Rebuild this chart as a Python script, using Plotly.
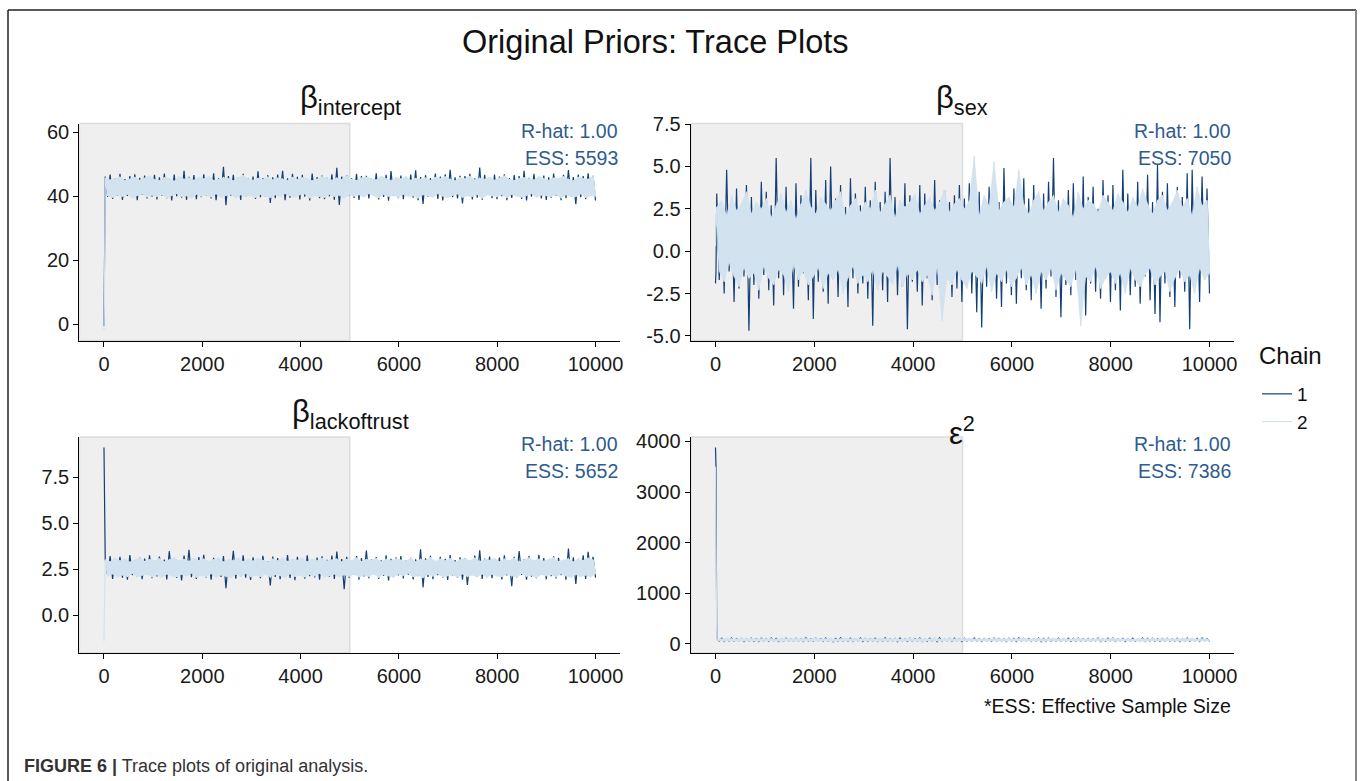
import numpy as np
import plotly.graph_objects as go
from plotly.subplots import make_subplots

# ---------------- data ----------------
# Each trace is summarised by the upper / lower extremes of 100 consecutive
# blocks of 100 iterations, plus the starting (warm-up) values.
PANELS = ["intercept", "sex", "lackoftrust", "epsilon2"]
RHAT = ["1.00", "1.00", "1.00", "1.00"]
ESS = ["5593", "7050", "5652", "7386"]

START_ITER = [0, 10]
INTERCEPT_C1_START = [-0.5, 18.0]
INTERCEPT_C2_START = [-1.8, 8.0]
INTERCEPT_C1_HI = [46.2, 46.8, 45.6, 47.0, 45.4, 46.3, 46.9, 45.8, 46.5, 45.3,
                   46.7, 45.9, 47.1, 45.5, 46.8, 45.4, 48.0, 46.1, 46.6, 45.7,
                   46.9, 46.0, 47.2, 45.6, 49.2, 46.3, 46.7, 45.8, 47.0, 45.5,
                   46.2, 47.8, 45.7, 46.6, 45.9, 46.8, 48.0, 45.6, 47.0, 46.1,
                   46.7, 45.5, 47.1, 46.0, 46.5, 45.8, 46.9, 48.9, 46.2, 46.6,
                   45.7, 47.0, 46.3, 46.4, 45.6, 47.2, 45.9, 46.7, 47.9, 45.8,
                   46.5, 46.1, 46.8, 48.1, 46.0, 46.6, 45.7, 47.1, 46.2, 46.9,
                   48.3, 45.9, 46.4, 46.3, 47.0, 45.6, 49.0, 46.7, 46.0, 46.8,
                   46.2, 46.9, 45.7, 46.6, 46.3, 48.0, 45.8, 47.0, 46.1, 46.5,
                   45.9, 47.1, 45.6, 46.7, 48.2, 46.0, 46.8, 46.3, 47.2, 46.4]
INTERCEPT_C1_LO = [39.8, 39.2, 40.3, 38.9, 40.1, 39.5, 38.8, 40.4, 39.3, 39.9,
                   39.0, 40.2, 39.4, 38.7, 40.0, 39.6, 38.9, 40.3, 39.1, 39.7,
                   40.1, 39.3, 38.8, 39.9, 37.2, 40.2, 39.5, 38.9, 39.8, 40.4,
                   39.2, 39.7, 40.0, 37.9, 39.4, 40.3, 38.8, 39.6, 40.1, 39.0,
                   39.9, 38.7, 40.2, 39.4, 39.1, 40.0, 38.9, 37.3, 39.7, 40.3,
                   39.5, 38.9, 40.1, 39.3, 40.4, 39.0, 39.8, 38.6, 40.2, 39.4,
                   39.1, 40.3, 39.6, 38.8, 37.6, 39.9, 40.1, 39.2, 38.7, 40.0,
                   39.7, 39.3, 37.8, 40.2, 39.0, 39.6, 38.9, 40.4, 39.4, 39.1,
                   40.0, 38.8, 39.5, 40.3, 39.2, 38.7, 39.9, 40.1, 39.3, 38.9,
                   39.6, 40.2, 38.8, 39.4, 40.0, 37.5, 39.7, 39.1, 40.3, 38.7]
INTERCEPT_C2_HI = [45.8, 45.2, 45.5, 46.1, 44.9, 45.4, 46.0, 45.1, 45.7, 46.4,
                   45.3, 45.0, 45.9, 45.6, 44.8, 46.2, 45.4, 45.8, 45.1, 46.0,
                   45.5, 46.3, 45.0, 45.3, 45.9, 45.6, 44.9, 45.8, 46.6, 45.4,
                   45.1, 45.7, 45.3, 46.1, 45.2, 45.8, 45.5, 45.0, 46.0, 45.3,
                   45.9, 45.6, 44.9, 45.4, 46.2, 45.7, 45.1, 45.8, 45.3, 46.5,
                   45.4, 45.0, 45.8, 46.0, 45.5, 45.2, 46.3, 45.6, 44.9, 45.9,
                   45.5, 46.1, 45.1, 45.7, 45.4, 45.8, 45.0, 46.0, 45.6, 46.2,
                   45.3, 44.9, 45.9, 45.5, 46.3, 45.2, 45.7, 45.4, 46.0, 45.1,
                   45.8, 46.4, 45.3, 45.0, 45.6, 45.9, 45.5, 45.2, 46.1, 45.7,
                   45.1, 45.8, 45.6, 46.2, 45.3, 44.9, 46.0, 45.6, 45.4, 46.3]
INTERCEPT_C2_LO = [40.1, 39.6, 40.4, 39.9, 40.6, 39.4, 40.2, 40.7, 39.7, 40.3,
                   39.8, 40.5, 39.5, 40.2, 40.8, 39.9, 40.1, 39.3, 40.6, 40.0,
                   40.3, 39.7, 40.7, 39.6, 40.2, 40.6, 39.4, 40.4, 39.9, 40.2,
                   39.6, 40.5, 40.0, 39.5, 40.4, 39.8, 40.8, 40.1, 39.7, 40.4,
                   40.7, 39.4, 40.2, 40.0, 39.6, 40.6, 39.9, 40.3, 39.3, 40.5,
                   40.0, 40.4, 39.7, 40.8, 40.1, 39.5, 40.5, 39.9, 40.3, 39.6,
                   40.6, 39.8, 40.1, 39.4, 40.5, 40.2, 39.7, 40.8, 40.0, 39.5,
                   40.3, 40.7, 39.6, 40.1, 39.9, 40.5, 39.3, 40.4, 40.1, 39.8,
                   40.5, 39.5, 40.6, 40.0, 39.7, 40.2, 40.8, 39.6, 40.3, 40.1,
                   39.9, 40.5, 39.4, 40.4, 40.1, 39.8, 40.7, 39.6, 40.2, 40.0]

SEX_C1_START = [-1.9, -1.2]
SEX_C2_START = [0.3, 1.0]
SEX_C1_HI = [3.4, 2.6, 4.8, 3.0, 3.7, 2.4, 3.9, 3.2, 2.8, 4.1,
             3.5, 2.7, 5.5, 3.1, 3.8, 2.5, 4.0, 3.3, 2.9, 5.5,
             3.6, 2.8, 4.2, 5.0, 3.1, 3.9, 2.6, 4.3, 3.4, 2.7,
             3.8, 3.0, 4.1, 2.9, 3.5, 5.5, 3.2, 2.6, 4.0, 3.3,
             2.8, 3.9, 3.4, 2.5, 4.2, 3.0, 3.6, 2.9, 3.3, 3.9,
             3.1, 4.0, 2.7, 3.5, 2.4, 3.8, 3.2, 2.9, 4.9, 3.0,
             3.7, 2.6, 4.3, 3.1, 3.9, 2.8, 3.4, 4.1, 5.5, 3.0,
             2.7, 3.6, 4.0, 2.9, 4.4, 3.2, 3.8, 2.5, 4.2, 3.3,
             3.9, 2.8, 4.8, 3.4, 2.6, 4.1, 3.1, 4.5, 2.9, 5.1,
             3.5, 4.0, 2.7, 3.8, 3.2, 4.6, 4.8, 3.0, 4.4, 3.7]
SEX_C1_LO = [-1.7, -2.5, -1.2, -3.0, -2.2, -1.5, -4.7, -2.0, -2.8, -1.4,
             -2.3, -3.2, -1.6, -2.6, -1.9, -3.4, -2.1, -1.3, -2.9, -4.0,
             -1.8, -2.4, -3.1, -1.5, -2.7, -2.0, -3.3, -1.6, -2.5, -1.9,
             -2.8, -4.4, -1.7, -2.3, -3.0, -1.4, -2.6, -2.1, -4.6, -1.8,
             -2.4, -3.2, -1.6, -2.9, -2.0, -3.5, -1.5, -2.7, -2.2, -3.0,
             -1.7, -2.5, -3.6, -4.5, -2.1, -1.4, -2.8, -3.3, -1.9, -2.6,
             -3.1, -1.6, -2.3, -2.9, -1.8, -3.4, -2.2, -1.5, -2.7, -3.9,
             -2.0, -2.6, -1.7, -3.2, -3.8, -1.9, -2.4, -2.8, -1.6, -3.0,
             -2.3, -3.5, -1.8, -2.6, -2.1, -3.1, -1.5, -2.9, -3.7, -4.2,
             -1.9, -2.7, -3.3, -1.6, -2.4, -4.6, -2.0, -3.0, -1.7, -2.5]
SEX_C2_HI = [2.6, 3.0, 2.1, 3.3, 2.4, 2.8, 3.5, 2.2, 2.9, 2.5,
             3.1, 2.0, 2.7, 3.4, 2.3, 3.0, 1.9, 2.8, 3.6, 2.6,
             2.2, 3.2, 2.8, 2.4, 3.0, 3.5, 2.1, 2.7, 3.1, 2.3,
             2.9, 2.5, 3.6, 2.3, 2.8, 3.3, 2.0, 3.0, 2.6, 2.9,
             3.4, 2.2, 2.7, 3.2, 2.4, 2.9, 3.6, 2.3, 2.8, 3.1,
             2.5, 3.0, 5.6, 2.1, 3.3, 2.7, 5.3, 2.4, 2.9, 3.2,
             2.6, 4.8, 2.8, 2.2, 3.0, 3.5, 2.4, 2.9, 3.3, 2.3,
             3.1, 2.7, 2.0, 3.5, 2.5, 3.0, 2.8, 2.3, 3.3, 2.9,
             2.4, 3.4, 2.9, 2.3, 3.2, 2.6, 3.7, 2.8, 2.2, 3.0,
             3.3, 2.4, 2.9, 3.6, 2.6, 3.1, 2.1, 3.8, 2.7, 3.0]
SEX_C2_LO = [-1.2, -1.8, -0.7, -1.5, -2.1, -1.0, -1.6, -1.3, -2.3, -0.9,
             -1.6, -2.0, -1.1, -1.4, -2.4, -0.8, -1.7, -1.2, -2.0, -1.5,
             -1.0, -2.2, -1.3, -1.7, -1.1, -2.5, -1.6, -0.9, -1.9, -1.4,
             -1.8, -1.1, -2.3, -1.2, -1.5, -2.0, -0.8, -2.1, -1.3, -1.7,
             -1.1, -1.8, -1.4, -2.6, -1.0, -4.1, -1.6, -2.0, -1.1, -1.7,
             -2.2, -1.2, -1.5, -1.9, -0.9, -2.4, -1.3, -1.8, -1.1, -2.1,
             -1.6, -1.0, -2.0, -1.4, -2.5, -1.2, -1.7, -1.0, -2.3, -1.3,
             -1.7, -2.1, -1.1, -4.4, -1.5, -1.8, -0.9, -2.2, -1.6, -1.2,
             -1.9, -1.3, -2.5, -1.0, -1.7, -2.1, -1.4, -1.0, -2.0, -1.5,
             -1.2, -2.4, -1.6, -1.1, -1.8, -1.4, -2.5, -1.0, -1.7, -1.3]

LACK_C1_START = [9.1, 4.2]
LACK_C2_START = [-1.4, 1.2]
LACK_C1_HI = [3.05, 3.22, 2.95, 3.18, 3.01, 3.27, 2.92, 3.14, 3.08, 3.25,
              2.98, 3.19, 3.03, 3.48, 3.10, 2.96, 3.24, 3.55, 3.02, 3.16,
              3.28, 2.94, 3.12, 3.06, 3.21, 2.99, 3.50, 3.09, 3.26, 2.97,
              3.15, 3.04, 3.23, 2.93, 3.19, 3.11, 2.98, 3.27, 3.02, 3.17,
              3.08, 3.25, 2.96, 3.13, 3.20, 3.01, 3.24, 3.46, 3.05, 3.18,
              2.95, 3.22, 3.10, 3.52, 3.03, 3.16, 2.99, 3.26, 3.07, 3.14,
              3.21, 2.97, 3.12, 3.04, 3.58, 3.09, 3.23, 2.94, 3.18, 3.06,
              3.27, 3.00, 3.15, 3.11, 2.96, 3.24, 3.53, 3.08, 3.19, 3.02,
              3.13, 3.26, 2.98, 3.17, 3.49, 3.05, 3.21, 2.95, 3.28, 3.10,
              3.04, 3.20, 3.12, 2.97, 3.62, 3.15, 3.07, 3.25, 3.45, 3.18]
LACK_C1_LO = [2.15, 1.98, 2.22, 2.05, 1.93, 2.18, 2.08, 1.96, 2.24, 2.02,
              2.11, 2.20, 1.95, 2.14, 2.03, 1.90, 2.19, 2.07, 1.97, 2.23,
              2.06, 1.94, 2.17, 2.09, 1.47, 2.21, 1.99, 2.12, 2.04, 1.92,
              2.18, 2.01, 2.25, 1.62, 2.08, 1.96, 2.16, 2.03, 1.91, 2.20,
              1.99, 2.13, 2.06, 1.94, 2.22, 2.10, 1.97, 2.15, 1.42, 2.05,
              2.19, 1.93, 2.11, 2.02, 2.24, 1.98, 2.14, 1.89, 2.07, 2.17,
              2.00, 2.21, 1.95, 2.12, 1.52, 2.09, 1.96, 2.18, 2.04, 1.92,
              2.16, 2.03, 1.94, 1.65, 2.20, 2.08, 1.97, 2.13, 2.01, 2.23,
              1.95, 2.17, 1.58, 2.06, 2.19, 1.93, 2.10, 2.02, 2.22, 1.96,
              2.12, 2.00, 2.18, 1.94, 2.07, 1.70, 2.15, 1.98, 2.21, 2.05]
LACK_C2_HI = [3.02, 2.92, 3.10, 2.97, 3.06, 2.90, 3.01, 3.12, 2.94, 3.04,
              2.98, 3.08, 2.91, 3.03, 3.14, 2.95, 3.05, 2.93, 3.11, 2.99,
              3.07, 2.94, 3.02, 3.12, 2.91, 3.04, 2.98, 3.09, 2.93, 3.06,
              2.96, 3.10, 3.00, 2.90, 3.07, 2.97, 3.13, 2.94, 3.03, 3.00,
              3.09, 2.92, 3.05, 2.98, 3.11, 2.95, 3.02, 3.07, 2.91, 3.05,
              2.97, 3.12, 2.93, 3.04, 3.00, 3.09, 2.91, 3.06, 2.98, 3.08,
              3.01, 2.95, 3.11, 2.92, 3.05, 2.99, 3.14, 2.94, 3.07, 2.97,
              3.09, 2.90, 3.03, 3.08, 2.96, 3.12, 2.93, 3.04, 3.00, 3.10,
              2.92, 3.07, 2.98, 3.11, 2.91, 3.02, 3.13, 2.96, 3.07, 2.95,
              3.04, 3.14, 2.94, 3.01, 3.08, 2.91, 3.06, 2.99, 3.12, 3.02]
LACK_C2_LO = [2.12, 2.24, 2.06, 2.17, 2.09, 2.27, 2.08, 2.15, 2.25, 2.07,
              2.19, 2.05, 2.23, 2.13, 2.08, 2.21, 2.11, 2.28, 2.06, 2.16,
              2.09, 2.25, 2.05, 2.18, 2.12, 2.04, 2.22, 2.13, 2.26, 2.08,
              2.17, 2.10, 2.23, 2.06, 2.20, 2.14, 2.05, 2.24, 2.09, 2.18,
              2.07, 2.21, 2.12, 2.27, 2.06, 2.15, 2.23, 2.08, 2.19, 2.11,
              2.22, 2.07, 2.17, 2.10, 2.25, 2.05, 2.20, 2.13, 2.07, 2.23,
              2.14, 2.28, 2.08, 2.16, 2.04, 2.21, 2.11, 2.26, 2.07, 2.15,
              2.19, 2.06, 2.24, 2.10, 2.18, 2.08, 2.23, 2.05, 2.21, 2.12,
              2.08, 2.23, 2.14, 2.06, 2.26, 2.11, 2.17, 2.04, 2.22, 2.13,
              2.20, 2.07, 2.25, 2.12, 2.05, 2.21, 2.09, 2.17, 2.07, 2.27]

EPS_C1_START = [3880, 3500]
EPS_C2_START = [3500, 1800]
EPS_C1_HI = [108, 115, 101, 119, 105, 111, 98, 117, 106, 113,
             102, 120, 109, 104, 116, 99, 112, 107, 123, 103,
             114, 106, 118, 100, 110, 121, 105, 113, 101, 117,
             109, 103, 115, 107, 124, 102, 111, 119, 104, 112,
             106, 118, 100, 114, 108, 122, 103, 110, 116, 105,
             113, 101, 119, 107, 111, 104, 117, 109, 102, 115,
             110, 121, 106, 112, 103, 118, 108, 114, 100, 116,
             104, 112, 109, 120, 105, 111, 102, 117, 107, 113,
             118, 103, 110, 106, 115, 101, 119, 108, 112, 104,
             109, 116, 102, 113, 107, 120, 105, 111, 118, 106]
EPS_C1_LO = [55, 49, 58, 52, 61, 47, 56, 53, 50, 59,
             51, 57, 46, 54, 60, 50, 55, 48, 58, 52,
             59, 53, 56, 45, 54, 51, 57, 49, 62, 50,
             52, 58, 48, 55, 51, 60, 47, 56, 53, 54,
             57, 50, 54, 59, 46, 53, 61, 51, 55, 49,
             53, 56, 51, 48, 58, 52, 55, 60, 47, 57,
             50, 54, 59, 52, 56, 45, 53, 58, 51, 55,
             56, 49, 55, 53, 57, 51, 60, 48, 54, 58,
             52, 57, 50, 56, 53, 59, 47, 55, 51, 54,
             58, 51, 56, 49, 55, 53, 57, 50, 60, 52]
EPS_C2_HI = [104, 98, 109, 101, 96, 107, 100, 112, 97, 103,
             99, 106, 95, 110, 102, 97, 108, 100, 105, 96,
             111, 98, 103, 107, 94, 101, 109, 99, 104, 97,
             106, 100, 96, 112, 103, 98, 107, 95, 101, 109,
             97, 105, 102, 99, 113, 96, 104, 108, 98, 101,
             103, 110, 97, 100, 106, 95, 111, 102, 99, 107,
             98, 104, 109, 96, 101, 108, 97, 105, 112, 100,
             106, 95, 102, 110, 99, 103, 96, 108, 101, 97,
             111, 100, 98, 105, 94, 107, 102, 99, 109, 96,
             103, 108, 97, 101, 106, 99, 112, 95, 104, 100]
EPS_C2_LO = [62, 57, 65, 59, 54, 61, 58, 66, 56, 60,
             63, 55, 60, 58, 64, 53, 61, 57, 62, 59,
             56, 64, 59, 52, 61, 58, 65, 55, 60, 63,
             58, 61, 54, 62, 57, 66, 59, 56, 63, 55,
             60, 53, 64, 58, 61, 55, 62, 59, 52, 65,
             57, 62, 56, 60, 54, 63, 58, 61, 55, 59,
             64, 58, 61, 53, 62, 57, 60, 66, 56, 59,
             55, 63, 59, 57, 61, 54, 65, 58, 62, 56,
             60, 57, 64, 55, 59, 62, 53, 61, 58, 63,
             59, 56, 62, 60, 54, 65, 57, 61, 55, 60]

X_TICKS = [0, 2000, 4000, 6000, 8000, 10000]
X_TICKTEXT = ["0", "2000", "4000", "6000", "8000", "10000"]
Y_TICKS = [[0, 20, 40, 60], [-5.0, -2.5, 0.0, 2.5, 5.0, 7.5],
           [0.0, 2.5, 5.0, 7.5], [0, 1000, 2000, 3000, 4000]]
Y_TICKTEXT = [["0", "20", "40", "60"], ["-5.0", "-2.5", "0.0", "2.5", "5.0", "7.5"],
              ["0.0", "2.5", "5.0", "7.5"], ["0", "1000", "2000", "3000", "4000"]]
WARMUP_END = 5000
N_ITER = 10000

# ---------------- styling ----------------
FONT = "Liberation Sans"
C1 = "#123f77"
C2 = "#d2e2ee"
TXT_BLUE = "#2f5b8e"
SHADE = "#efefef"

series = {
    "intercept": (INTERCEPT_C1_START, INTERCEPT_C1_HI, INTERCEPT_C1_LO,
                  INTERCEPT_C2_START, INTERCEPT_C2_HI, INTERCEPT_C2_LO),
    "sex": (SEX_C1_START, SEX_C1_HI, SEX_C1_LO, SEX_C2_START, SEX_C2_HI, SEX_C2_LO),
    "lackoftrust": (LACK_C1_START, LACK_C1_HI, LACK_C1_LO,
                    LACK_C2_START, LACK_C2_HI, LACK_C2_LO),
    "epsilon2": (EPS_C1_START, EPS_C1_HI, EPS_C1_LO, EPS_C2_START, EPS_C2_HI, EPS_C2_LO),
}

# iteration index at which each extreme was read (alternating high / low)
ZIG_ITERS = np.linspace(25, N_ITER, 200)


def trace_xy(start, hi, lo):
    ys = list(start)
    for h, l in zip(hi, lo):
        ys.extend([h, l])
    xs = list(START_ITER[:len(start)]) + list(ZIG_ITERS)
    return xs, ys


def band_xy(hi, lo):
    xh = list(ZIG_ITERS[0::2])
    xl = list(ZIG_ITERS[1::2])
    return xh + xl[::-1], list(hi) + list(lo)[::-1]


W, H = 1363, 781
fig = make_subplots(rows=2, cols=2)

positions = [(1, 1), (1, 2), (2, 1), (2, 2)]
for i, name in enumerate(PANELS):
    r, c = positions[i]
    s1, h1, l1, s2, h2, l2 = series[name]
    x1, y1 = trace_xy(s1, h1, l1)
    x2, y2 = trace_xy(s2, h2, l2)
    bx, by = band_xy(h2, l2)
    fig.add_trace(go.Scatter(x=x1, y=y1, mode="lines", name="1",
                             line=dict(color=C1, width=1.2),
                             legendgroup="1", showlegend=(i == 0)), row=r, col=c)
    fig.add_trace(go.Scatter(x=bx, y=by, mode="lines", fill="toself",
                             fillcolor=C2, line=dict(color=C2, width=0.5),
                             hoverinfo="skip", legendgroup="2", showlegend=False),
                  row=r, col=c)
    fig.add_trace(go.Scatter(x=x2, y=y2, mode="lines", name="2",
                             line=dict(color=C2, width=1.2),
                             legendgroup="2", showlegend=(i == 0)), row=r, col=c)


def px(x):
    return x / W


def py(y):
    return 1 - y / H


x_domains = [[px(79.4), px(620.1)], [px(690.8), px(1234.2)]]
y_domains = [[py(340.5), py(123.5)], [py(653), py(437)]]
y_ranges = [[-5.06, 62.75], [-5.27, 7.53], [-2.04, 9.67], [-178, 4087]]

axis_common = dict(showline=True, linecolor="#000000", linewidth=1.4,
                   ticks="outside", ticklen=5, tickwidth=1.2, tickcolor="#000000",
                   showgrid=False, zeroline=False, automargin=False,
                   tickfont=dict(family=FONT, size=20, color="#1a1a1a"))

for i in range(4):
    r, c = positions[i]
    xa = "xaxis" if i == 0 else f"xaxis{i+1}"
    ya = "yaxis" if i == 0 else f"yaxis{i+1}"
    fig.layout[xa].update(domain=x_domains[c - 1], range=[-500, 10500],
                          tickvals=X_TICKS, ticktext=X_TICKTEXT, **axis_common)
    fig.layout[ya].update(domain=y_domains[r - 1], range=y_ranges[i],
                          tickvals=Y_TICKS[i], ticktext=Y_TICKTEXT[i], **axis_common)
    xref = "x" if i == 0 else f"x{i+1}"
    yref = "y" if i == 0 else f"y{i+1}"
    fig.add_shape(type="rect", xref=xref, yref=f"{yref} domain",
                  x0=-500, x1=WARMUP_END, y0=0, y1=1,
                  fillcolor=SHADE, line=dict(color="#dcdcdc", width=1.5),
                  layer="below")

annotations = []
titles = ["β<sub>intercept</sub>", "β<sub>sex</sub>", "β<sub>lackoftrust</sub>", "ε<sup>2</sup>"]
title_pos = [(350, 100), (962, 100), (350, 414), (962, 431)]
for t, (tx, ty) in zip(titles, title_pos):
    annotations.append(dict(text=t, x=px(tx), y=py(ty), xref="paper", yref="paper",
                            showarrow=False, xanchor="center", yanchor="middle",
                            font=dict(family=FONT, size=31, color="#111111")))

rhat_pos = [(620, 131, 158), (1233, 131, 158), (620, 444, 471), (1233, 444, 471)]
for i, (rx, ry1, ry2) in enumerate(rhat_pos):
    annotations.append(dict(text=f"R-hat: {RHAT[i]}", x=px(rx), y=py(ry1),
                            xref="paper", yref="paper", showarrow=False,
                            xanchor="right", yanchor="middle",
                            font=dict(family=FONT, size=19.5, color=TXT_BLUE)))
    annotations.append(dict(text=f"ESS: {ESS[i]}", x=px(rx), y=py(ry2),
                            xref="paper", yref="paper", showarrow=False,
                            xanchor="right", yanchor="middle",
                            font=dict(family=FONT, size=19.5, color=TXT_BLUE)))

annotations.append(dict(text="Original Priors: Trace Plots", x=px(655), y=py(42),
                        xref="paper", yref="paper", showarrow=False,
                        xanchor="center", yanchor="middle",
                        font=dict(family=FONT, size=32.5, color="#111111")))
annotations.append(dict(text="*ESS: Effective Sample Size", x=px(1233), y=py(706),
                        xref="paper", yref="paper", showarrow=False,
                        xanchor="right", yanchor="middle",
                        font=dict(family=FONT, size=19.5, color="#111111")))
annotations.append(dict(text="<b>FIGURE 6 |</b> Trace plots of original analysis.",
                        x=px(22), y=py(766), xref="paper", yref="paper",
                        showarrow=False, xanchor="left", yanchor="middle",
                        font=dict(family=FONT, size=18, color="#333333")))
annotations.append(dict(text="Chain", x=px(1257), y=py(356), xref="paper", yref="paper",
                        showarrow=False, xanchor="left", yanchor="middle",
                        font=dict(family=FONT, size=24, color="#111111")))

# outer figure frame
frame = [
    dict(type="line", xref="paper", yref="paper", x0=px(8), x1=px(8), y0=py(10), y1=0,
         line=dict(color="#222222", width=1.5)),
    dict(type="line", xref="paper", yref="paper", x0=px(8), x1=px(1356), y0=py(10), y1=py(10),
         line=dict(color="#222222", width=1.5)),
    dict(type="line", xref="paper", yref="paper", x0=px(1356), x1=px(1356), y0=py(10), y1=0,
         line=dict(color="#888888", width=2)),
]
for f in frame:
    fig.add_shape(**f)

fig.update_layout(
    template="none",
    width=W, height=H, autosize=False,
    margin=dict(l=0, r=0, t=0, b=0, pad=0),
    paper_bgcolor="white", plot_bgcolor="white",
    annotations=annotations,
    font=dict(family=FONT, color="#111111"),
    legend=dict(font=dict(family=FONT, size=19, color="#111111"),
                x=px(1257), y=py(375), xanchor="left", yanchor="top",
                bgcolor="rgba(0,0,0,0)", itemwidth=30, tracegroupgap=0,
                borderwidth=0),
)

POST = ("document.documentElement.style.margin='0';document.documentElement.style.padding='0';"
        "document.documentElement.style.overflow='hidden';"
        "document.body.style.margin='0';document.body.style.padding='0';"
        "document.body.style.overflow='hidden';"
        "var gd=document.getElementById('{plot_id}');"
        "gd.style.position='absolute';gd.style.left='0px';gd.style.top='0px';")
fig.write_html("out.html", post_script=POST,
               config={"displayModeBar": False, "responsive": False})
